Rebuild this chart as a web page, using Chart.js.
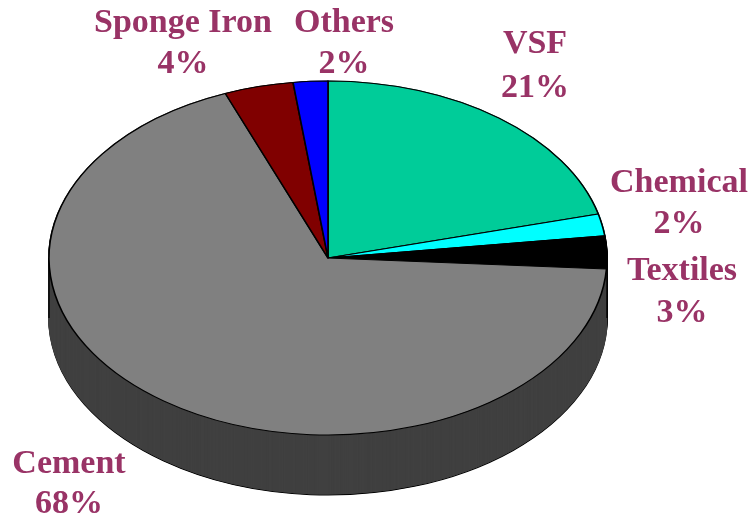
<!DOCTYPE html>
<html><head><meta charset="utf-8">
<style>html,body{margin:0;padding:0;background:#fff}canvas{display:block}</style>
<script src="https://cdn.jsdelivr.net/npm/chart.js@4"></script>
</head><body><canvas id="c" width="752" height="519"></canvas>
<script>
const categories = ["VSF","Chemical","Textiles","Cement","Sponge Iron","Others"];
const shares = [21,2,3,68,4,2];
const sliceColors = ["#00CC99","#00FFFF","#000000","#808080","#800000","#0000FF"];
const sideColors = ["#006650","#008080","#000000","#404040","#400000","#000080"];
const labelAnchors = [[535,53,97],[679,192,233],[682,280,322],[69,473,513],[183,32,73],[344,32,73]];

const RX = 279, TILT = 177/279, DEPTH = 60;
const tiltAt = (ctx,a,dy)=>{ctx.translate(a.x,a.y+dy);ctx.scale(1,TILT);ctx.translate(-a.x,-a.y);};

function drawArcWith(arc,ctx,over){
  const orig = arc.options;
  arc.options = Object.assign(Object.create(orig),over);
  arc.draw(ctx);
  arc.options = orig;
}
const pie3d = {
  id:'pie3d',
  beforeDatasetDraw(chart,args){
    const ctx = chart.ctx, arcs = args.meta.data, a0 = arcs[0];
    for(let d=DEPTH;d>=0;d-=1){
      arcs.forEach((arc,i)=>{
        ctx.save();tiltAt(ctx,a0,d);
        drawArcWith(arc,ctx,d===DEPTH
          ?{backgroundColor:sideColors[i],borderWidth:1.6,borderColor:'#000'}
          :{backgroundColor:sideColors[i],borderWidth:1.6,borderColor:sideColors[i]});
        ctx.restore();
      });
    }
    ctx.save();ctx.strokeStyle='#000';ctx.lineWidth=1.4;
    [-1,1].forEach(s=>{ctx.beginPath();
      ctx.moveTo(a0.x+s*a0.outerRadius,a0.y);
      ctx.lineTo(a0.x+s*a0.outerRadius,a0.y+DEPTH);ctx.stroke();});
    ctx.restore();
    ctx.save();tiltAt(ctx,a0,0);
  },
  afterDatasetDraw(chart){chart.ctx.restore();},
  afterDraw(chart){
    const ctx = chart.ctx;
    ctx.save();
    ctx.fillStyle='#993366';ctx.textAlign='center';ctx.textBaseline='alphabetic';
    ctx.font='bold 34px "Liberation Serif"';
    categories.forEach((name,i)=>{
      const p=labelAnchors[i];
      ctx.fillText(name,p[0],p[1]);
      ctx.fillText(shares[i]+'%',p[0],p[2]);
    });
    ctx.restore();
  }
};
new Chart(document.getElementById('c'),{
  type:'pie',
  data:{labels:categories,datasets:[{data:shares,backgroundColor:sliceColors,
    borderColor:'#000',borderWidth:1.6,borderJoinStyle:'round',borderAlign:'center',
    radius:RX,clip:false}]},
  options:{responsive:false,animation:false,
    layout:{padding:{left:0,right:96,top:0,bottom:3}},
    plugins:{legend:{display:false},tooltip:{enabled:false},title:{display:false}}},
  plugins:[pie3d]
});
</script></body></html>
